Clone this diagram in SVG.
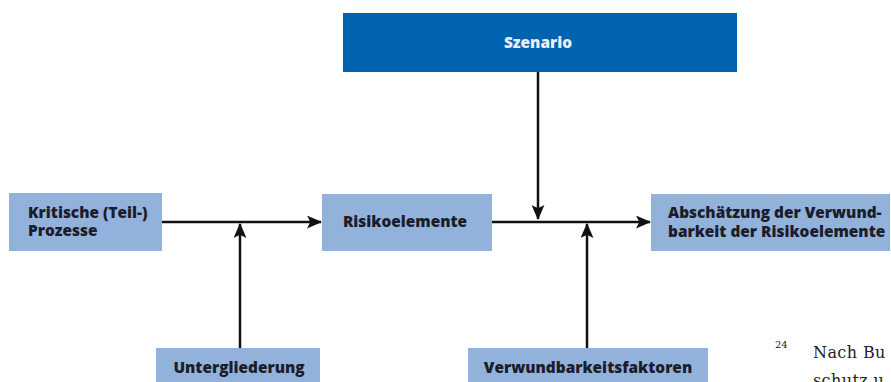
<svg xmlns="http://www.w3.org/2000/svg" width="891" height="382" viewBox="0 0 891 382">
  <defs>
    <style>
      .box { fill: #92b1db; }
      .head { fill: #0063b0; }
      .lbl { font-family: "Open Sans", "DejaVu Sans", sans-serif; font-weight: 800; font-size: 15.4px; fill: #1b1d2a; }
      .lbl-w { font-family: "Open Sans", "DejaVu Sans", sans-serif; font-weight: 800; font-size: 15.4px; fill: #e8eef8; }
      .edge { stroke: #111; stroke-width: 2.5; fill: none; }
      .note { font-family: "DejaVu Serif", "Liberation Serif", serif; fill: #222; }
    </style>
    <marker id="arrow" viewBox="0 0 14 12" refX="13" refY="6" markerUnits="userSpaceOnUse" markerWidth="15" markerHeight="13" orient="auto">
      <path d="M0,0 L14,6 L0,12 L3,6 Z" fill="#111"/>
    </marker>
  </defs>

  <rect width="891" height="382" fill="#ffffff"/>

  <!-- connectors -->
  <g id="connectors">
    <line class="edge" x1="162" y1="222" x2="321" y2="222" marker-end="url(#arrow)"/>
    <line class="edge" x1="492" y1="222" x2="650" y2="222" marker-end="url(#arrow)"/>
    <line class="edge" x1="538" y1="72" x2="538" y2="219" marker-end="url(#arrow)"/>
    <line class="edge" x1="240" y1="348" x2="240" y2="224" marker-end="url(#arrow)"/>
    <line class="edge" x1="587" y1="348" x2="587" y2="224" marker-end="url(#arrow)"/>
  </g>

  <!-- nodes -->
  <g id="szenario">
    <rect class="head" x="343" y="13" width="394" height="59"/>
    <text class="lbl-w" x="538" y="48" text-anchor="middle">Szenario</text>
  </g>

  <g id="kritische-prozesse">
    <rect class="box" x="9" y="193" width="153" height="58"/>
    <text class="lbl" x="28" y="218">Kritische (Teil-)</text>
    <text class="lbl" x="28" y="236">Prozesse</text>
  </g>

  <g id="risikoelemente">
    <rect class="box" x="322" y="194" width="170" height="57"/>
    <text class="lbl" x="405" y="227" text-anchor="middle">Risikoelemente</text>
  </g>

  <g id="abschaetzung">
    <rect class="box" x="651" y="194" width="239" height="57"/>
    <text class="lbl" x="668" y="218">Abschätzung der Verwund-</text>
    <text class="lbl" x="668" y="237">barkeit der Risikoelemente</text>
  </g>

  <g id="untergliederung">
    <rect class="box" x="156" y="348" width="164" height="40"/>
    <text class="lbl" x="239" y="373" text-anchor="middle">Untergliederung</text>
  </g>

  <g id="verwundbarkeitsfaktoren">
    <rect class="box" x="468" y="348" width="240" height="40"/>
    <text class="lbl" x="588" y="373" text-anchor="middle">Verwundbarkeitsfaktoren</text>
  </g>

  <!-- footnote fragment at the page edge -->
  <g id="footnote">
    <text class="note" x="775" y="348" font-size="10">24</text>
    <text class="note" x="813" y="358" font-size="16" letter-spacing="0.4">Nach Bu</text>
    <text class="note" x="813" y="386" font-size="16" letter-spacing="0.4">schutz u</text>
  </g>
</svg>
